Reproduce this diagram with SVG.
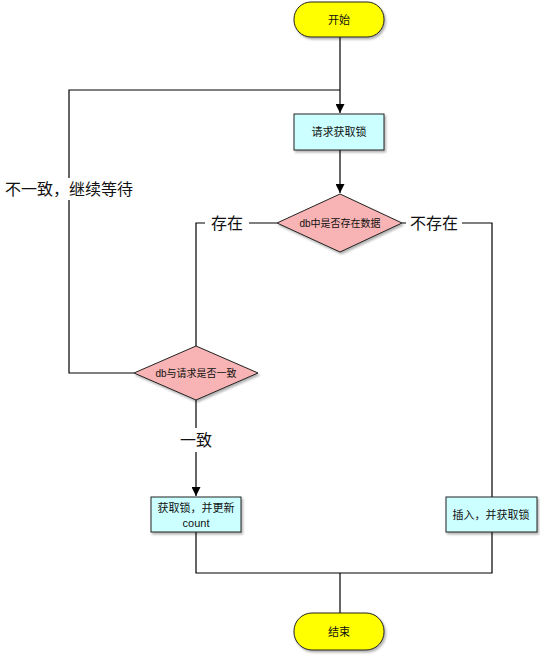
<svg xmlns="http://www.w3.org/2000/svg" width="540" height="656" viewBox="0 0 540 656">
<style>
text{font-family:"Liberation Sans","Noto Sans CJK SC",sans-serif;fill:#111;text-anchor:middle;dominant-baseline:central}
.n{font-size:11px}
.e{font-size:16px}
.term{fill:#ffff00;stroke:#222;stroke-width:1}
.box{fill:#ccffff;stroke:#222;stroke-width:1}
.dia{fill:#f8b4b4;stroke:#222;stroke-width:1}
.ln{fill:none;stroke:#000;stroke-width:1.2}
.lb{fill:#fff}
</style>
<defs>
<marker id="ar" viewBox="0 0 10 10" refX="10" refY="5" markerWidth="9" markerHeight="9" markerUnits="userSpaceOnUse" orient="auto">
<path d="M0,0 L10,5 L0,10 z" fill="#000"/>
</marker>
<filter id="sh" x="-20%" y="-20%" width="140%" height="150%">
<feDropShadow dx="1.5" dy="2" stdDeviation="1.2" flood-color="#000" flood-opacity="0.3"/>
</filter>
</defs>
<rect width="540" height="656" fill="#fff"/>
<g id="connectors">
<path class="ln" d="M340,37 V113" marker-end="url(#ar)"/>
<path class="ln" d="M340,150 V193" marker-end="url(#ar)"/>
<path class="ln" d="M277,223 H196 V346"/>
<path class="ln" d="M402,223 H492 V497"/>
<path class="ln" d="M134,373 H69 V90 H340"/>
<path class="ln" d="M196,400 V496" marker-end="url(#ar)"/>
<path class="ln" d="M196,532 V573 H492 V532"/>
<path class="ln" d="M340,573 V613"/>
<g id="lbl-exist"><rect class="lb" x="205" y="212" width="44" height="22"/><text class="e" x="227" y="223">存在</text></g>
<g id="lbl-notexist"><rect class="lb" x="406" y="212" width="56" height="22"/><text class="e" x="434" y="223">不存在</text></g>
<g id="lbl-wait"><rect class="lb" x="4" y="178" width="130" height="22"/><text class="e" x="69" y="189">不一致，继续等待</text></g>
<g id="lbl-same"><rect class="lb" x="178" y="428" width="36" height="24"/><text class="e" x="196" y="440">一致</text></g>
</g>
<g id="start"><rect class="term" x="294" y="2" width="90" height="35" rx="17" filter="url(#sh)"/><text class="n" x="339" y="20">开始</text></g>
<g id="request"><rect class="box" x="294" y="114" width="90" height="36" filter="url(#sh)"/><text class="n" x="339" y="132">请求获取锁</text></g>
<g id="check-db"><polygon class="dia" points="340,194 402,223 340,252 277,223" filter="url(#sh)"/><text class="n" x="340" y="223" style="font-size:10px">db中是否存在数据</text></g>
<g id="check-same"><polygon class="dia" points="196,346 258,373 196,400 134,373" filter="url(#sh)"/><text class="n" x="196" y="373" style="font-size:10px">db与请求是否一致</text></g>
<g id="acquire"><rect class="box" x="151" y="497" width="90" height="35" filter="url(#sh)"/><text class="n" x="196" y="508">获取锁，并更新</text><text class="n" x="196" y="523">count</text></g>
<g id="insert"><rect class="box" x="446" y="497" width="91" height="35" filter="url(#sh)"/><text class="n" x="491" y="515">插入，并获取锁</text></g>
<g id="end"><rect class="term" x="294" y="613" width="90" height="37" rx="18" filter="url(#sh)"/><text class="n" x="339" y="632">结束</text></g>
</svg>
